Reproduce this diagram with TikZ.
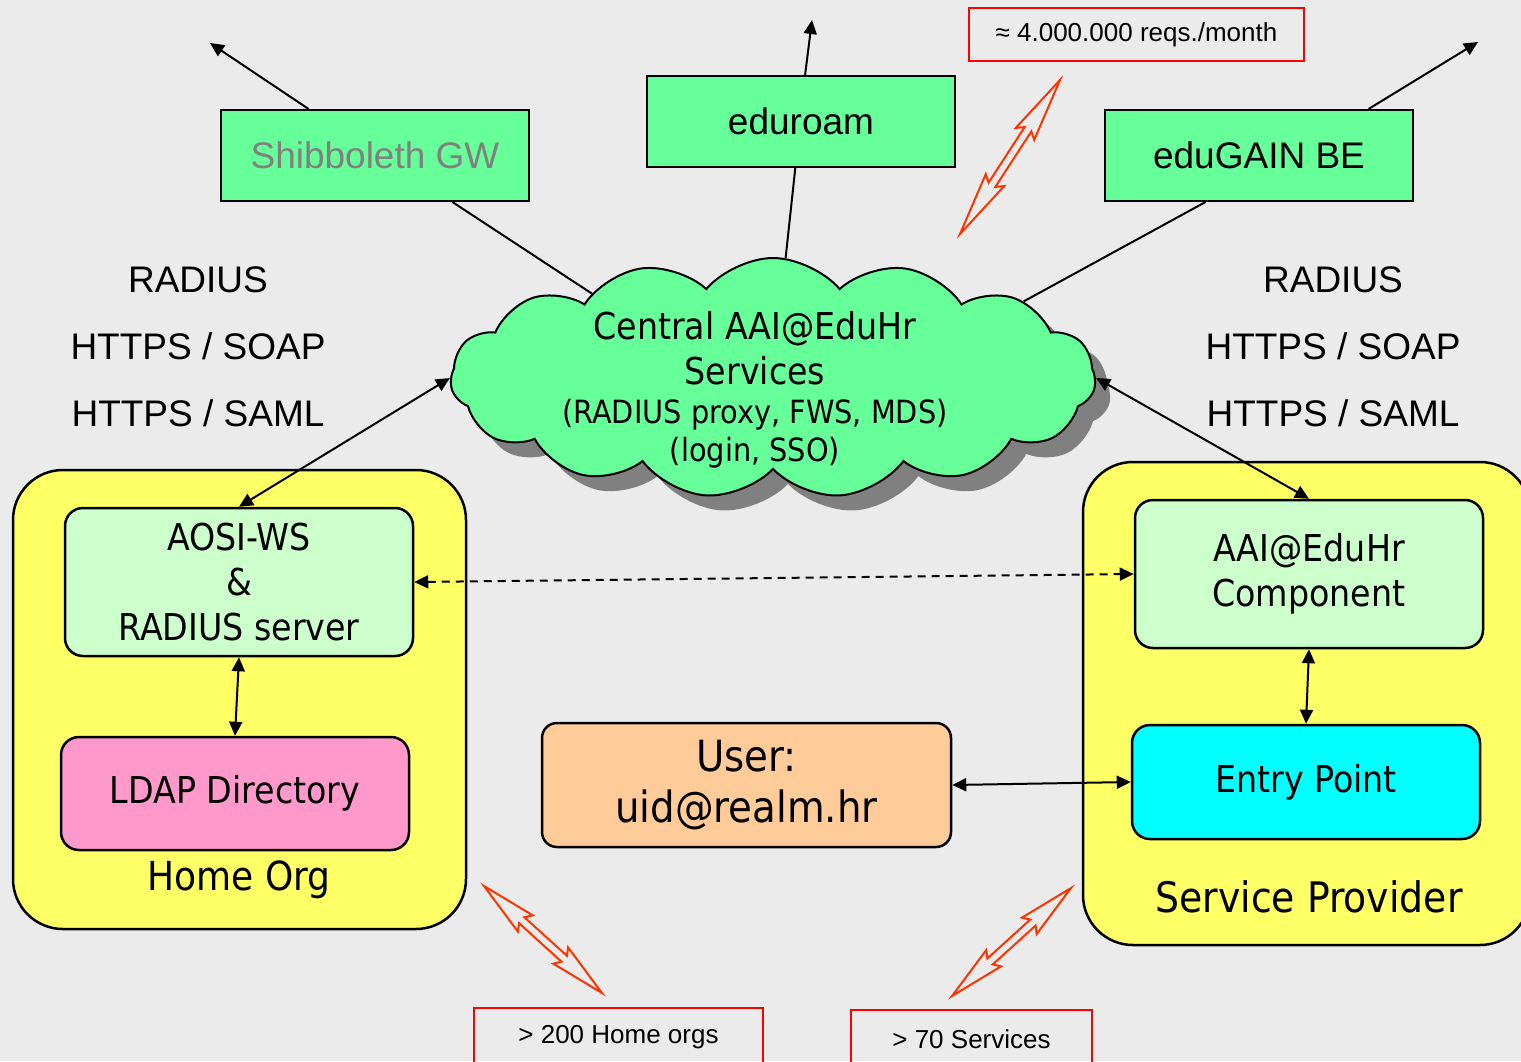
\documentclass[tikz,border=0pt]{standalone}
\usepackage{fontspec}
\setmainfont{Liberation Sans}
\newfontfamily\tahoma{DejaVu Sans Condensed}
\usetikzlibrary{positioning,shapes.symbols,shadows,arrows.meta,calc}

\definecolor{bgray}{HTML}{EBEBEB}
\definecolor{boxgreen}{HTML}{66FF99}
\definecolor{palegreen}{HTML}{CCFFCC}
\definecolor{orgyellow}{HTML}{FFFF66}
\definecolor{ldappink}{HTML}{FF99CC}
\definecolor{userorange}{HTML}{FFCC99}
\definecolor{entrycyan}{HTML}{00FFFF}
\definecolor{zapred}{HTML}{FF3300}

% double lightning arrow between two points
\newcommand\zapdraw[2]{%
  \draw[zap] (#1) -- ($(#1)!0.35!(#2)!11pt!90:(#2)$) -- ($(#1)!0.32!(#2)!4pt!90:(#2)$)
    -- ($(#1)!0.68!(#2)!4pt!90:(#2)$) -- ($(#1)!0.65!(#2)!11pt!90:(#2)$) -- (#2)
    -- ($(#1)!0.65!(#2)!11pt!-90:(#2)$) -- ($(#1)!0.68!(#2)!4pt!-90:(#2)$)
    -- ($(#1)!0.32!(#2)!4pt!-90:(#2)$) -- ($(#1)!0.35!(#2)!11pt!-90:(#2)$) -- cycle;}
\newcommand\smalltext{\fontsize{32}{39}\selectfont}

\begin{document}
\begin{tikzpicture}[x=1pt, y=-1pt,
    service/.style={draw, line width=2pt, fill=boxgreen, rectangle, minimum width=308pt, minimum height=91pt, font=\fontsize{37}{44}\selectfont},
    org/.style={draw, line width=2.5pt, fill=orgyellow, rounded corners=50pt},
    comp/.style={draw, line width=2.5pt, rounded corners=18pt, minimum width=348pt, align=center, font=\tahoma\fontsize{37}{45}\selectfont},
    proto/.style={align=center, font=\fontsize{37}{67}\selectfont},
    stat/.style={draw=red, line width=2pt, inner sep=0pt, font=\fontsize{26}{30}\selectfont},
    arrow/.style={-{Triangle[length=14pt,width=13pt]}, line width=2pt},
    biarrow/.style={{Triangle[length=14pt,width=13pt]}-{Triangle[length=14pt,width=13pt]}, line width=2pt},
    zap/.style={draw=zapred, line width=2pt, line join=miter}
]
    % Background
    \fill[bgray] (0,0) rectangle (1521,1061);
    \useasboundingbox (0,0) rectangle (1521,1061);

    % Organisations
    \node[org, minimum width=453pt, minimum height=459pt] (homeorg) at (239.5,699.5) {};
    \node[org, minimum width=447pt, minimum height=483pt] (provider) at (1306.5,703.5) {};
    \node[font=\tahoma\fontsize{40}{48}\selectfont] (homelabel) at (239,880) {Home Org};
    \node[font=\tahoma\fontsize{42}{50}\selectfont] (providerlabel) at (1309,897) {Service Provider};

    % Components
    \node[comp, fill=palegreen, minimum height=148pt] (aosi) at (239,582) {AOSI-WS\\\&\\RADIUS server};
    \node[comp, fill=ldappink, minimum height=113pt] (ldap) at (235,793.5) {LDAP Directory};
    \node[comp, fill=palegreen, minimum height=148pt] (aai) at (1309,574) {AAI@EduHr\\Component};
    \node[comp, fill=entrycyan, minimum height=114pt] (entry) at (1306,782) {Entry Point};
    \node[comp, fill=userorange, minimum width=409pt, minimum height=124pt, rounded corners=15pt,
          font=\tahoma\fontsize{43}{51}\selectfont] (user) at (746.5,785) {User:\\uid@realm.hr};

    % Services
    \node[service] (shib) at (375,155.5) {\textcolor{black!50}{Shibboleth GW}};
    \node[service] (eduroam) at (801,121.5) {eduroam};
    \node[service] (edugain) at (1259,155.5) {eduGAIN BE};

    % Cloud
    \node[cloud, cloud puffs=15, cloud puff arc=100, aspect=2.7, draw, line width=2pt, fill=boxgreen,
          minimum width=645pt, minimum height=240pt,
          drop shadow={fill=black!50, shadow xshift=15pt, shadow yshift=-15pt, opacity=1}] (central) at (773,378) {};
    \node[align=center, font=\tahoma\fontsize{37}{45}\selectfont] (centraltext) at (755,390)
        {Central AAI@EduHr\\Services\\[-6pt]\smalltext (RADIUS proxy, FWS, MDS)\\[-7pt]\smalltext (login, SSO)};

    % Protocols
    \node[proto] (protoleft) at (198,347) {RADIUS\\HTTPS / SOAP\\HTTPS / SAML};
    \node[proto] (protoright) at (1333,347) {RADIUS\\HTTPS / SOAP\\HTTPS / SAML};

    % Statistics
    \node[stat, minimum width=335pt, minimum height=53pt] (reqs) at (1136.5,34.5) {≈ 4.000.000 reqs./month};
    \node[stat, minimum width=289pt, minimum height=58pt] (homeorgs) at (618.5,1037) {> 200 Home orgs};
    \node[stat, minimum width=241pt, minimum height=58pt] (services) at (971.5,1039) {> 70 Services};

    \coordinate (zapreqsA) at (1060,80);
    \coordinate (zapreqsB) at (960,234);
    \coordinate (zaporgsA) at (484,886);
    \coordinate (zaporgsB) at (602,993);
    \coordinate (zapservA) at (1071,888);
    \coordinate (zapservB) at (952,996);
    \zapdraw{zapreqsA}{zapreqsB}
    \zapdraw{zaporgsA}{zaporgsB}
    \zapdraw{zapservA}{zapservB}

    % Arrows
    \coordinate (shibout) at (210,43);
    \coordinate (eduroamout) at (812,20);
    \coordinate (edugainout) at (1478,42);
    \draw[arrow] (shib.145) -- (shibout);
    \draw[arrow] (eduroam.85) -- (eduroamout);
    \draw[arrow] (edugain.23) -- (edugainout);
    \draw[line width=2pt] (shib.-31.6) -- (central.155);
    \draw[line width=2pt] (eduroam.-97.5) -- (central.84);
    \draw[line width=2pt] (edugain.221) -- (central.17);
    \draw[biarrow] (central.west) -- (aosi.north);
    \draw[biarrow] (central.east) -- (aai.north);
    \draw[biarrow, dash pattern=on 8pt off 6pt] (aosi.east) -- (aai.west);
    \draw[biarrow] (aosi.south) -- (ldap.north);
    \draw[biarrow] (aai.south) -- (entry.north);
    \draw[biarrow] (user.east) -- (entry.west);
\end{tikzpicture}
\end{document}
